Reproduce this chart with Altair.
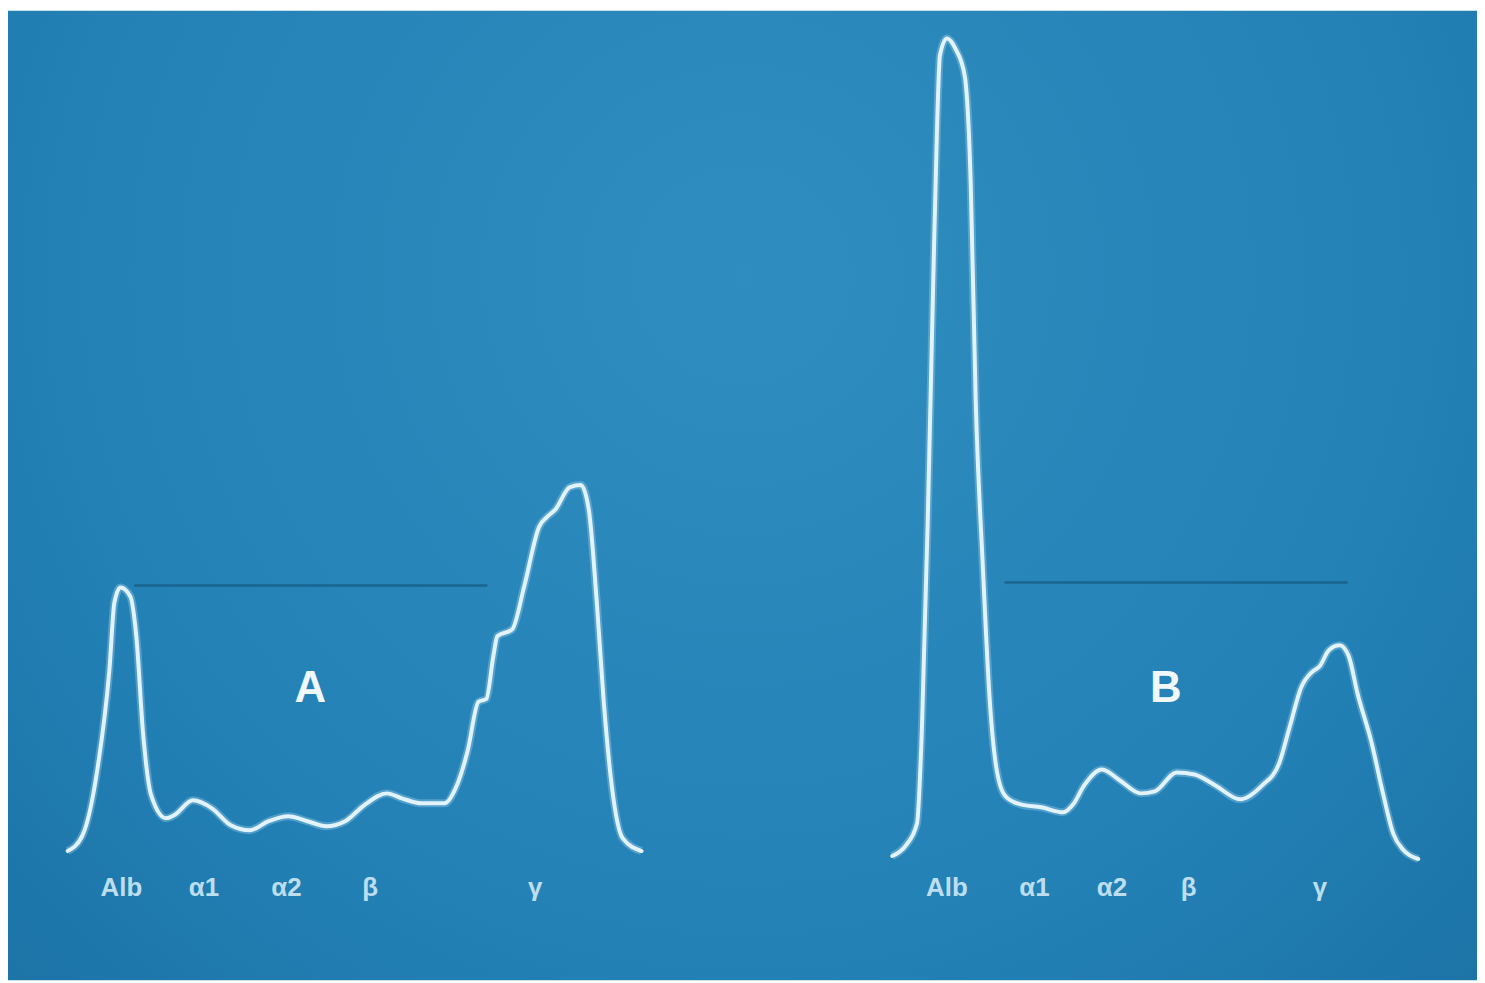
import altair as alt
import pandas as pd

# Trace A (mobility position, density)
a_x = [68, 83, 98, 110, 115, 121, 131, 137, 144, 152, 167, 175, 194, 213, 232, 251, 270, 290, 309,
       328, 347, 366, 389, 404, 424, 447, 458, 470, 481, 489, 496, 500, 515, 527, 542, 550, 558, 573,
       584, 592, 600, 607, 615, 626, 645]
a_y = [853, 837, 770, 670, 603, 588, 597, 637, 737, 797, 820, 817, 802, 810, 827, 832, 823, 818, 823,
       828, 823, 807, 795, 800, 805, 805, 790, 753, 703, 700, 657, 637, 630, 587, 527, 517, 510, 487,
       485, 510, 603, 703, 787, 840, 853]

# Trace B
b_x = [897, 911, 922, 927, 933, 938, 942, 945, 952, 961, 970, 976, 981, 988, 995, 1002, 1011, 1026,
       1047, 1069, 1079, 1090, 1108, 1126, 1147, 1161, 1183, 1201, 1222, 1247, 1269, 1286, 1297, 1308,
       1319, 1327, 1336, 1347, 1356, 1365, 1379, 1390, 1401, 1411, 1426]
b_y = [858, 847, 825, 727, 510, 292, 129, 53, 36, 47, 74, 183, 401, 564, 700, 771, 798, 806,
       809, 814, 806, 787, 771, 782, 795, 793, 774, 776, 787, 801, 787, 765, 727, 689,
       673, 667, 651, 646, 657, 695, 744, 793, 836, 852, 861]

fractions = ["Alb", "α1", "α2", "β", "γ"]
a_label_x = [122, 205, 288, 372, 538]
b_label_x = [952, 1040, 1118, 1195, 1327]

panel_names = ["A", "B"]
panel_x = [312, 1172]
ref_x1 = [135, 1010]
ref_x2 = [490, 1355]
ref_y = [586, 583]

TOP = 983  # page bottom in the photo's frame; density = TOP - y


def dens(vals):
    return [TOP - v for v in vals]


traces = pd.DataFrame({
    "x": a_x + b_x,
    "d": dens(a_y) + dens(b_y),
    "trace": ["A"] * len(a_x) + ["B"] * len(b_x),
    "i": list(range(len(a_x))) + list(range(len(b_x))),
})
labels = pd.DataFrame({
    "x": a_label_x + b_label_x,
    "d": [TOP - 890] * 10,
    "t": fractions + fractions,
})
panels = pd.DataFrame({"x": panel_x, "d": [TOP - 690] * 2, "t": panel_names})
refs = pd.DataFrame({"x": ref_x1, "x2": ref_x2, "d": dens(ref_y)})

W, H = 1477, 975
xs = alt.Scale(domain=[8, 8 + W], nice=False, zero=False)
ys = alt.Scale(domain=[0, H], nice=False, zero=False)
X = alt.X("x:Q", scale=xs, axis=None)
Y = alt.Y("d:Q", scale=ys, axis=None)

bg = alt.Chart(pd.DataFrame({"x": [8], "x2": [8 + W], "d": [0], "d2": [H]})).mark_rect(
    color=alt.Gradient(
        gradient="radial",
        x1=0.5, y1=0.35, r1=0.0, x2=0.5, y2=0.35, r2=0.85,
        stops=[alt.GradientStop(offset=0, color="#2f8dbf"),
               alt.GradientStop(offset=0.55, color="#2381b6"),
               alt.GradientStop(offset=1, color="#176a9c")],
    )
).encode(x=X, x2="x2:Q", y=Y, y2="d2:Q")

ref_lines = alt.Chart(refs).mark_rule(color="#175c86", strokeWidth=2.5, opacity=0.8).encode(
    x=X, x2="x2:Q", y=Y)

glow = alt.Chart(traces).mark_line(
    color="#a9d8f0", strokeWidth=8, opacity=0.35, interpolate="monotone"
).encode(x=X, y=Y, detail="trace:N", order="i:Q")

lines = alt.Chart(traces).mark_line(
    color="#e2f3fb", strokeWidth=4, interpolate="monotone", strokeJoin="round", strokeCap="round"
).encode(x=X, y=Y, detail="trace:N", order="i:Q")

lab = alt.Chart(labels).mark_text(
    font="Liberation Sans", fontSize=26, fontWeight="bold", color="#cfe9f6", opacity=0.9
).encode(x=X, y=Y, text="t:N")

big = alt.Chart(panels).mark_text(
    font="Liberation Sans", fontSize=44, fontWeight="bold", color="#f0f8fc"
).encode(x=X, y=Y, text="t:N")

chart = alt.layer(bg, ref_lines, glow, lines, lab, big).properties(
    width=W, height=H,
    autosize=alt.AutoSizeParams(type="fit", contains="padding"),
    padding=0,
    background="#ffffff",
).configure_view(stroke=None)

chart.save("out.html", embed_options={"renderer": "svg", "actions": False})
